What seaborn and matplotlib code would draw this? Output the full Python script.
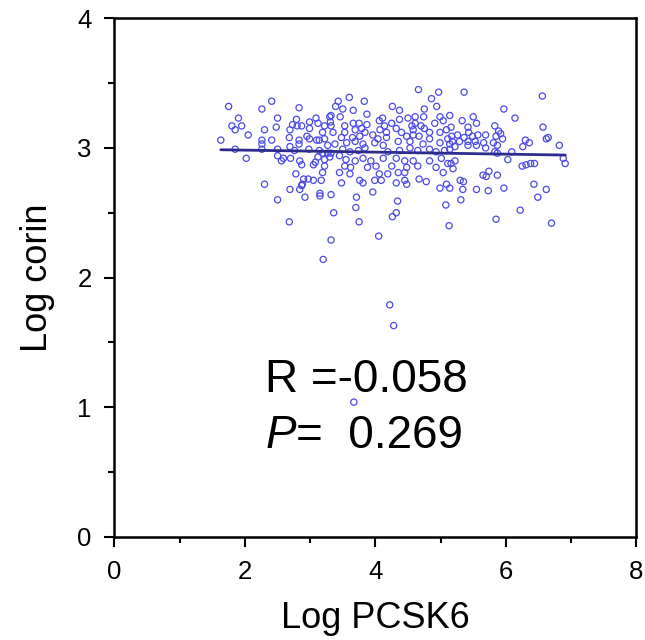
import pandas as pd
import seaborn as sns
import matplotlib.pyplot as plt
from matplotlib.ticker import MultipleLocator

# values (log scale units)
log_pcsk6 = [
    1.75, 2.26, 2.41, 2.83, 1.90, 1.95, 1.80, 1.85, 2.50, 2.30,
    2.48, 2.05, 1.63, 2.26, 2.26, 2.26, 2.41, 1.85, 2.02, 2.50,
    2.50, 2.56, 2.59, 2.69, 2.70, 2.68, 2.69, 2.73, 2.79, 2.80,
    2.87, 2.83, 2.83, 2.76, 2.84, 2.87, 2.99, 2.99, 2.95, 2.99,
    3.09, 3.12, 3.22, 3.30, 3.31, 3.19, 3.10, 3.14, 3.22, 3.27,
    2.98, 3.14, 3.19, 3.27, 3.12, 3.08, 3.05, 3.22, 3.30, 3.22,
    3.19, 2.78, 2.90, 2.97, 3.05, 3.17, 2.88, 2.87, 2.30, 2.69,
    2.84, 3.15, 2.50, 2.92, 3.15, 3.32, 2.68, 3.36, 3.32, 3.20,
    4.66, 4.97, 4.86, 3.60, 3.83, 3.43, 3.39, 3.50, 3.66, 4.26,
    4.37, 4.75, 4.94, 3.32, 3.46, 3.87, 4.11, 4.37, 4.50, 4.61,
    4.74, 4.99, 5.14, 3.32, 3.53, 3.66, 3.75, 3.87, 4.06, 4.14,
    4.25, 4.56, 4.61, 4.70, 4.91, 5.04, 3.35, 3.53, 3.69, 3.79,
    3.84, 4.07, 4.17, 4.32, 4.40, 4.58, 4.75, 4.83, 4.99, 5.09,
    3.48, 3.65, 3.76, 3.96, 4.04, 4.17, 4.48, 4.58, 4.67, 4.83,
    5.11, 3.38, 3.56, 3.69, 3.81, 3.99, 4.12, 4.35, 4.53, 4.73,
    4.99, 5.14, 3.50, 3.32, 3.45, 3.61, 3.74, 3.84, 4.19, 4.37,
    4.53, 4.65, 4.83, 4.93, 5.06, 3.55, 3.69, 3.81, 3.93, 4.12,
    4.32, 4.45, 4.58, 4.83, 5.01, 5.11, 3.53, 3.62, 3.88, 4.01,
    4.25, 4.48, 4.65, 4.93, 3.45, 3.61, 4.06, 4.19, 4.35, 4.45,
    5.04, 3.48, 3.76, 3.81, 3.99, 4.09, 4.32, 4.45, 4.48, 4.67,
    4.78, 5.09, 4.99, 5.14, 3.96, 3.71, 4.34, 3.70, 5.08, 4.32,
    4.26, 3.75, 5.13, 4.05, 5.36, 6.56, 5.97, 6.14, 5.50, 5.33,
    5.55, 5.16, 5.42, 5.43, 5.83, 5.89, 6.57, 5.17, 5.26, 5.36,
    5.49, 5.57, 5.69, 5.85, 5.92, 5.95, 6.65, 6.62, 5.18, 5.29,
    5.42, 5.53, 5.66, 5.81, 6.30, 6.36, 5.22, 5.42, 5.55, 5.69,
    5.87, 6.26, 6.82, 5.14, 5.83, 5.87, 6.09, 6.88, 6.91, 5.22,
    5.16, 5.19, 6.03, 6.25, 6.31, 6.38, 6.44, 5.74, 5.65, 5.70,
    5.87, 5.30, 5.35, 6.43, 5.34, 5.55, 5.73, 5.97, 6.62, 5.31,
    6.49, 6.22, 5.85, 6.70, 4.22, 4.28, 3.67,
]
log_corin = [
    3.32, 3.30, 3.36, 3.31, 3.23, 3.17, 3.17, 3.14, 3.23, 3.14,
    3.16, 3.10, 3.06, 3.06, 3.03, 2.99, 3.06, 2.99, 2.92, 2.99,
    2.94, 2.90, 2.92, 3.01, 2.92, 3.08, 3.14, 3.18, 3.22, 3.17,
    3.17, 3.06, 3.03, 2.98, 2.90, 2.87, 3.20, 3.15, 3.09, 3.07,
    3.23, 3.19, 3.17, 3.24, 3.20, 3.12, 3.06, 3.06, 3.07, 3.02,
    2.99, 2.98, 2.96, 2.96, 2.93, 2.89, 2.87, 2.91, 2.93, 2.86,
    2.81, 2.80, 2.76, 2.76, 2.75, 2.75, 2.72, 2.71, 2.72, 2.68,
    2.68, 2.65, 2.60, 2.62, 2.63, 2.64, 2.43, 2.50, 2.29, 2.14,
    3.45, 3.43, 3.38, 3.39, 3.36, 3.36, 3.32, 3.30, 3.29, 3.32,
    3.29, 3.30, 3.32, 3.25, 3.24, 3.26, 3.23, 3.22, 3.23, 3.24,
    3.24, 3.24, 3.25, 3.17, 3.17, 3.19, 3.19, 3.18, 3.21, 3.17,
    3.19, 3.17, 3.19, 3.17, 3.19, 3.21, 3.12, 3.12, 3.14, 3.15,
    3.12, 3.14, 3.12, 3.15, 3.12, 3.14, 3.15, 3.12, 3.12, 3.14,
    3.08, 3.08, 3.09, 3.10, 3.07, 3.08, 3.09, 3.10, 3.09, 3.07,
    3.07, 3.03, 3.04, 3.05, 3.03, 3.04, 3.02, 3.05, 3.05, 3.03,
    3.04, 3.03, 2.99, 2.96, 2.94, 2.97, 2.98, 3.00, 2.97, 2.98,
    3.00, 2.98, 2.99, 2.97, 2.98, 2.91, 2.90, 2.92, 2.90, 2.92,
    2.92, 2.90, 2.90, 2.90, 2.92, 2.88, 2.86, 2.85, 2.85, 2.86,
    2.86, 2.85, 2.86, 2.85, 2.81, 2.80, 2.80, 2.80, 2.81, 2.81,
    2.81, 2.73, 2.75, 2.73, 2.75, 2.75, 2.73, 2.75, 2.72, 2.76,
    2.74, 2.72, 2.69, 2.69, 2.66, 2.62, 2.59, 2.54, 2.56, 2.50,
    2.47, 2.43, 2.40, 2.32, 3.43, 3.40, 3.30, 3.23, 3.24, 3.21,
    3.19, 3.16, 3.16, 3.12, 3.17, 3.13, 3.16, 3.09, 3.10, 3.08,
    3.09, 3.10, 3.10, 3.09, 3.11, 3.07, 3.08, 3.07, 3.05, 3.05,
    3.05, 3.05, 3.04, 3.04, 3.06, 3.04, 3.01, 3.02, 3.02, 3.00,
    3.02, 3.01, 3.02, 2.99, 2.97, 2.96, 2.97, 2.92, 2.88, 2.90,
    2.88, 2.84, 2.91, 2.86, 2.87, 2.88, 2.88, 2.82, 2.79, 2.78,
    2.79, 2.75, 2.74, 2.72, 2.68, 2.68, 2.67, 2.69, 2.68, 2.60,
    2.62, 2.52, 2.45, 2.42, 1.79, 1.63, 1.04,
]

data = pd.DataFrame({'pcsk6': log_pcsk6, 'corin': log_corin})

sns.set_theme(style='white')
plt.rcParams['font.family'] = ['Liberation Sans', 'DejaVu Sans']

fig = plt.figure(figsize=(6.45, 6.4), dpi=100)
ax = fig.add_axes([0.1775, 0.161, 0.809, 0.8105])

sns.regplot(x='pcsk6', y='corin', data=data, ci=None, ax=ax, color='#4b4be6',
            scatter_kws={'facecolors': 'none', 'edgecolors': '#4b4be6', 's': 20,
                         'linewidths': 0.9, 'alpha': 1},
            line_kws={'color': '#2c2c8e', 'lw': 2})

ax.set_xlim(0, 8)
ax.set_ylim(0, 4)
ax.xaxis.set_major_locator(MultipleLocator(2))
ax.xaxis.set_minor_locator(MultipleLocator(1))
ax.yaxis.set_major_locator(MultipleLocator(1))
ax.yaxis.set_minor_locator(MultipleLocator(0.5))
ax.tick_params(which='both', direction='out', color='black', width=1.5,
               bottom=True, left=True, top=False, right=False)
ax.tick_params(which='major', length=7.5, labelsize=18.5, pad=9, labelcolor='black')
ax.tick_params(which='minor', length=4)
for sp in ax.spines.values():
    sp.set_color('black')
    sp.set_linewidth(1.8)

ax.set_xlabel('Log PCSK6', fontsize=26, color='black', labelpad=12)
ax.set_ylabel('Log corin', fontsize=26, color='black', labelpad=16)

ax.text(2.31, 1.12, 'R =-0.058', fontsize=33, color='black', ha='left', va='baseline')
ax.text(2.31, 0.684, 'P', fontsize=33, fontstyle='italic', color='black',
        ha='left', va='baseline')
ax.text(2.78, 0.684, '=  0.269', fontsize=33, color='black', ha='left', va='baseline')

fig.savefig('out.png', dpi=100, facecolor='white')
